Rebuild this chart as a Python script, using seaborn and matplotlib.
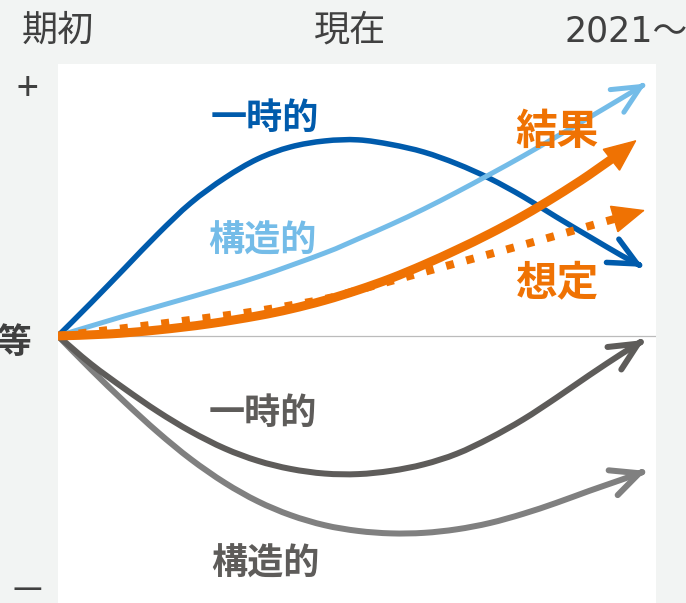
import numpy as np
import matplotlib
matplotlib.use("Agg")
import matplotlib.pyplot as plt
from matplotlib.patches import ArrowStyle, PathPatch
from matplotlib.path import Path
from matplotlib.transforms import blended_transform_factory
import seaborn as sns

# Scenario paths: x = elapsed time (0 = start of period), y = effect (+ / -)
x_temp_up = [0, 5.5, 11.2, 16.7, 22.2, 27.9, 33.4, 38.9, 44.6, 50.2, 55.7,
             61.2, 66.7, 72.2, 77.8, 83.3, 88.8, 94.3, 97.8]
y_temp_up = [0, 12.1, 25.0, 37.5, 48.9, 58.1, 65.1, 69.5, 71.7, 72.1, 70.4,
             67.6, 63.3, 57.9, 51.2, 43.8, 36.6, 29.5, 25.4]

x_struct_up = [0, 11.2, 22.2, 33.4, 44.6, 50.2, 55.7, 61.2, 66.7, 72.2, 77.8,
               83.3, 88.8, 94.3, 98.3]
y_struct_up = [0, 7.4, 14.3, 21.7, 30.5, 35.7, 41.0, 46.7, 52.9, 59.4, 66.2,
               73.2, 80.3, 87.5, 92.8]

x_result = [0, 8.4, 16.7, 25.1, 33.4, 38.9, 44.6, 50.2, 55.7, 61.2, 66.7,
            72.2, 77.8, 83.3, 88.8, 94.3, 96.8]
y_result = [0, 0.7, 2.2, 4.4, 7.4, 9.9, 13.1, 16.9, 21.2, 26.2, 31.7,
            37.6, 44.2, 51.4, 59.2, 67.8, 72.1]

x_assumed = [0, 11.2, 22.2, 33.4, 44.6, 50.2, 55.7, 61.2, 66.7, 72.2, 77.8,
             83.3, 88.8, 93.0, 98.2]
y_assumed = [0, 2.9, 5.9, 9.2, 13.6, 16.9, 20.2, 23.5, 26.8, 30.1, 33.5,
             36.9, 40.4, 43.0, 46.3]

x_temp_down = [0, 5.5, 11.2, 16.7, 22.2, 27.9, 33.4, 38.9, 44.6, 50.2, 55.7,
               61.2, 66.7, 72.2, 77.8, 83.3, 88.8, 94.3, 98.0]
y_temp_down = [0, -10.3, -19.5, -27.8, -35.1, -41.4, -45.9, -48.9, -50.6,
               -50.8, -49.6, -47.2, -43.3, -37.6, -30.7, -22.8, -14.5, -6.5,
               -1.5]

x_struct_down = [0, 5.5, 11.2, 16.7, 22.2, 27.9, 33.4, 38.9, 44.6, 50.2, 55.7,
                 61.2, 66.7, 72.2, 77.8, 83.3, 88.8, 94.3, 98.3]
y_struct_down = [0, -12.3, -24.4, -35.4, -45.3, -54.0, -60.8, -65.9, -69.6,
                 -71.7, -72.6, -72.4, -71.1, -68.8, -65.4, -61.4, -57.0, -52.8,
                 -49.6]

period_labels = ["期初", "現在", "2021～"]
level_labels = ["+", "等", "—"]

BG = "#F2F4F3"
DARK_BLUE = "#005BAC"
LIGHT_BLUE = "#74BCE8"
ORANGE = "#EF7203"
DARK_GRAY = "#5E5C5A"
GRAY = "#808080"
TEXT = "#404040"

sns.set_theme(style="white")
plt.rcParams["font.family"] = ["Noto Sans CJK JP", "DejaVu Sans"]

fig = plt.figure(figsize=(6.86, 6.03), dpi=100, facecolor=BG)
ax = fig.add_axes([58 / 686, 0, 598 / 686, 539 / 603])
ax.set_facecolor("white")
ax.set_xlim(0, 100)
ax.set_ylim(-98.2, 100)
for s in ax.spines.values():
    s.set_visible(False)
ax.set_xticks([])
ax.set_yticks([])

ax.axhline(0, color="#BBBBBB", lw=0.9, zorder=1)


def smooth_path(px, py):
    """Cubic Bezier path (Catmull-Rom style) passing through the given points."""
    pts = np.column_stack([px, py])
    n = len(pts)
    verts = [pts[0]]
    codes = [Path.MOVETO]
    for i in range(n - 1):
        p0 = pts[max(i - 1, 0)]
        p1, p2 = pts[i], pts[i + 1]
        p3 = pts[min(i + 2, n - 1)]
        verts += [p1 + (p2 - p0) / 6, p2 - (p3 - p1) / 6, p2]
        codes += [Path.CURVE4] * 3
    return Path(verts, codes)


def draw_path(xs, ys, color, lw_px, z, head, dashed=False):
    """Draw a smooth path ending in an arrow head (chevron or filled triangle)."""
    lw = lw_px * 72 / 100
    tr = ax.transData
    tip = np.array([xs[-1], ys[-1]])
    prev = np.array([xs[-2], ys[-2]])
    p_tip, p_prev = tr.transform(tip), tr.transform(prev)
    d = (p_tip - p_prev) / np.hypot(*(p_tip - p_prev))
    cut = 18 if head == "filled" else 4
    cut_pt = tr.inverted().transform(p_tip - d * cut)
    lx = list(xs[:-1]) + [cut_pt[0]]
    ly = list(ys[:-1]) + [cut_pt[1]]
    patch = PathPatch(smooth_path(lx, ly), fill=False, edgecolor=color,
                      linewidth=lw, zorder=z, transform=tr)
    if dashed:
        patch.set_linestyle((0, (1, 1.6)))
        patch.set_capstyle("butt")
    else:
        patch.set_capstyle("round")
    ax.add_patch(patch)
    if head == "filled":
        style = ArrowStyle("-|>", head_length=2.2, head_width=0.95)
        props = dict(arrowstyle=style, mutation_scale=10, color=color, lw=1,
                     shrinkA=0, shrinkB=0, joinstyle="miter")
    else:
        style = ArrowStyle("->", head_length=2.0, head_width=0.95)
        props = dict(arrowstyle=style, mutation_scale=10, color=color, lw=lw,
                     shrinkA=0, shrinkB=0, capstyle="round", joinstyle="round")
    ax.annotate("", xy=tip, xytext=cut_pt, arrowprops=props, zorder=z)


draw_path(x_temp_up, y_temp_up, DARK_BLUE, 5.5, 2, "open")
draw_path(x_struct_up, y_struct_up, LIGHT_BLUE, 5, 3, "open")
draw_path(x_temp_down, y_temp_down, DARK_GRAY, 6, 3, "open")
draw_path(x_struct_down, y_struct_down, GRAY, 6, 2, "open")
draw_path(x_result, y_result, ORANGE, 9, 4, "filled")
draw_path(x_assumed, y_assumed, ORANGE, 8, 5, "filled", dashed=True)

# curve labels
lab = dict(ha="center", va="center", fontweight="bold", zorder=6)
ax.text(34.6, 79.8, "一時的", color=DARK_BLUE, fontsize=26, **lab)
ax.text(34.1, 34.9, "構造的", color=LIGHT_BLUE, fontsize=26, **lab)
ax.text(83.4, 75.0, "結果", color=ORANGE, fontsize=30, **lab)
ax.text(83.4, 19.2, "想定", color=ORANGE, fontsize=30, **lab)
ax.text(34.3, -28.6, "一時的", color=DARK_GRAY, fontsize=26, **lab)
ax.text(34.6, -83.8, "構造的", color=DARK_GRAY, fontsize=26, **lab)

# period headings along the top
top = blended_transform_factory(ax.transData, fig.transFigure)
ax.text(0, 1 - 31 / 603, period_labels[0], transform=top, ha="center",
        va="center", fontsize=26, color=TEXT)
ax.text(48.8, 1 - 31 / 603, period_labels[1], transform=top, ha="center",
        va="center", fontsize=26, color=TEXT)
ax.text(84.7, 1 - 31 / 603, period_labels[2], transform=top, ha="left",
        va="center", fontsize=25, color=TEXT,
        family=["DejaVu Sans", "Noto Sans CJK JP"])

# level markers on the left
fig.text(27.5 / 686, 1 - 90 / 603, level_labels[0], ha="center", va="center",
         fontsize=28, color=TEXT)
fig.text(14 / 686, 1 - 342 / 603, level_labels[1], ha="center", va="center",
         fontsize=25, color=TEXT, fontweight="bold")
fig.text(27.5 / 686, 1 - 589 / 603, level_labels[2], ha="center", va="center",
         fontsize=24, color=TEXT)

fig.savefig("out.png", dpi=100, facecolor=BG)
